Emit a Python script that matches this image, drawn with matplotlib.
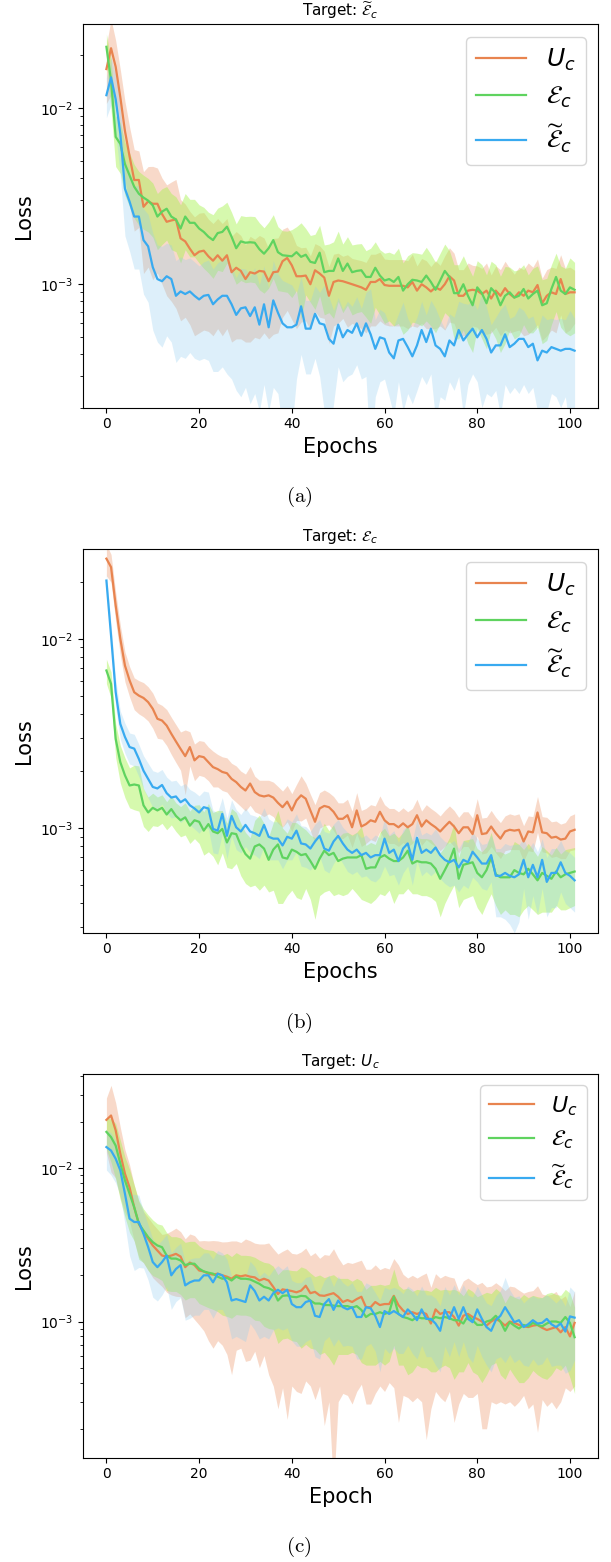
import matplotlib
matplotlib.use("Agg")
import matplotlib.pyplot as plt
import numpy as np

# losses in units of 1e-3, one value per epoch (0..101)
epochs = np.arange(102)

# ---- panel (a): target E~_c ----
a_u_mean = [16.6, 21.8, 17.1, 11.5, 7.4, 5.3, 3.9, 3.9, 2.75, 2.95, 2.86, 2.86, 2.5, 2.26, 2.3, 2.33, 1.82, 1.75, 1.59, 1.46,
            1.53, 1.55, 1.44, 1.36, 1.46, 1.36, 1.46, 1.17, 1.24, 1.19, 1.07, 1.17, 1.15, 1.19, 1.18, 1.04, 1.17, 1.18, 1.35, 1.41,
            1.28, 1.11, 1.11, 1.12, 1.0, 1.2, 1.15, 1.09, 0.86, 1.03, 1.05, 1.04, 1.02, 1.0, 0.98, 0.96, 0.93, 1.03, 1.03, 1.07,
            0.99, 0.98, 0.98, 0.98, 0.98, 0.96, 1.03, 0.92, 1.0, 0.96, 0.91, 0.96, 0.93, 1.0, 1.11, 1.05, 0.86, 0.86, 0.92, 0.93,
            0.92, 0.88, 0.92, 0.83, 0.92, 0.86, 0.95, 0.88, 0.84, 0.9, 0.86, 0.92, 0.9, 0.99, 0.78, 0.86, 0.9, 0.88, 1.07, 0.88,
            0.9, 0.9]
a_u_std = [6, 10, 7, 5, 3.5, 2.5, 1.9, 1.8, 1.6, 1.7, 1.8, 1.7, 1.5, 1.4, 1.5, 1.6, 1.2, 1.1, 1.0, 0.95,
           1.0, 1.0, 0.9, 0.85, 0.9, 0.85, 0.9, 0.7, 0.75, 0.7, 0.6, 0.7, 0.65, 0.7, 0.65, 0.55, 0.65, 0.65, 0.7, 0.7,
           0.65, 0.55, 0.5, 0.5, 0.45, 0.5, 0.5, 0.45, 0.4, 0.45, 0.45, 0.4, 0.45, 0.4, 0.4, 0.4, 0.4, 0.45, 0.45, 0.45,
           0.4, 0.4, 0.4, 0.4, 0.4, 0.4, 0.45, 0.35, 0.4, 0.4, 0.35, 0.4, 0.35, 0.45, 0.5, 0.45, 0.35, 0.35, 0.4, 0.35,
           0.35, 0.35, 0.4, 0.3, 0.35, 0.35, 0.4, 0.35, 0.3, 0.35, 0.35, 0.4, 0.35, 0.4, 0.3, 0.35, 0.35, 0.35, 0.4, 0.35,
           0.35, 0.3]
a_e_mean = [22.2, 14.3, 6.85, 6.25, 4.8, 4.14, 3.57, 3.26, 3.1, 2.98, 2.8, 2.42, 2.58, 2.68, 2.42, 2.33, 2.07, 2.42, 2.23, 2.23,
            2.07, 1.98, 1.86, 1.78, 1.95, 1.98, 2.12, 1.86, 1.6, 1.75, 1.72, 1.73, 1.72, 1.58, 1.49, 1.6, 1.78, 1.52, 1.46, 1.45,
            1.44, 1.52, 1.43, 1.47, 1.34, 1.32, 1.51, 1.17, 1.19, 1.19, 1.4, 1.19, 1.31, 1.17, 1.19, 1.2, 1.1, 1.1, 1.24, 1.12,
            1.05, 1.07, 1.03, 1.1, 0.92, 1.0, 1.06, 1.05, 1.03, 1.12, 1.03, 0.93, 1.05, 1.19, 1.1, 0.89, 0.89, 1.0, 0.86, 0.76,
            0.96, 0.89, 0.78, 0.95, 0.89, 0.76, 0.86, 0.9, 0.84, 0.86, 0.94, 0.83, 0.88, 0.92, 0.76, 0.78, 0.94, 1.1, 0.92, 0.88,
            0.96, 0.93]
a_e_std = [4, 4.5, 2.2, 2.0, 1.6, 1.4, 1.2, 1.1, 1.05, 1.0, 0.95, 0.85, 0.9, 0.9, 0.85, 0.8, 0.75, 0.85, 0.8, 0.8,
           0.75, 0.75, 0.7, 0.7, 0.75, 0.8, 0.8, 0.7, 0.6, 0.7, 0.7, 0.7, 0.7, 0.65, 0.6, 0.65, 0.7, 0.6, 0.55, 0.55,
           0.6, 0.6, 0.8, 0.6, 0.55, 0.6, 0.65, 0.5, 0.5, 0.55, 0.6, 0.5, 0.55, 0.5, 0.5, 0.5, 0.45, 0.5, 0.5, 0.45,
           0.45, 0.45, 0.45, 0.5, 0.4, 0.45, 0.45, 0.45, 0.45, 0.5, 0.45, 0.4, 0.45, 0.5, 0.45, 0.4, 0.4, 0.45, 0.4, 0.35,
           0.4, 0.4, 0.35, 0.4, 0.4, 0.35, 0.4, 0.35, 0.35, 0.35, 0.35, 0.3, 0.35, 0.35, 0.3, 0.3, 0.35, 0.4, 0.35, 0.35,
           0.45, 0.4]
a_t_mean = [11.8, 14.9, 11.2, 7.13, 3.48, 2.94, 2.42, 2.42, 1.78, 1.64, 1.25, 1.07, 1.04, 1.11, 1.07, 0.86, 0.91, 0.88, 0.91, 0.86,
            0.82, 0.86, 0.87, 0.77, 0.82, 0.86, 0.86, 0.77, 0.67, 0.73, 0.74, 0.66, 0.74, 0.59, 0.77, 0.57, 0.81, 0.69, 0.6, 0.57,
            0.57, 0.59, 0.75, 0.56, 0.56, 0.68, 0.6, 0.59, 0.49, 0.46, 0.59, 0.5, 0.55, 0.53, 0.6, 0.51, 0.6, 0.52, 0.43, 0.5,
            0.49, 0.41, 0.38, 0.48, 0.49, 0.44, 0.39, 0.45, 0.55, 0.47, 0.56, 0.45, 0.43, 0.39, 0.48, 0.45, 0.55, 0.48, 0.52, 0.56,
            0.5, 0.55, 0.49, 0.41, 0.45, 0.45, 0.52, 0.44, 0.46, 0.49, 0.49, 0.44, 0.46, 0.37, 0.42, 0.41, 0.44, 0.43, 0.42, 0.43,
            0.43, 0.42]
a_t_std = [3, 4.5, 4, 3, 1.6, 1.4, 1.2, 1.2, 0.9, 0.85, 0.7, 0.6, 0.6, 0.6, 0.6, 0.5, 0.52, 0.5, 0.5, 0.48,
           0.45, 0.48, 0.5, 0.45, 0.5, 0.52, 0.55, 0.48, 0.42, 0.5, 0.48, 0.45, 0.5, 0.4, 0.5, 0.38, 0.55, 0.45, 0.45, 0.45,
           0.42, 0.3, 0.35, 0.25, 0.25, 0.3, 0.3, 0.4, 0.36, 0.25, 0.25, 0.22, 0.25, 0.22, 0.25, 0.22, 0.3, 0.42, 0.2, 0.22,
           0.2, 0.18, 0.2, 0.2, 0.3, 0.2, 0.18, 0.2, 0.25, 0.2, 0.25, 0.28, 0.2, 0.17, 0.2, 0.2, 0.25, 0.3, 0.25, 0.25,
           0.22, 0.35, 0.25, 0.18, 0.2, 0.27, 0.25, 0.2, 0.2, 0.25, 0.22, 0.2, 0.2, 0.18, 0.25, 0.22, 0.2, 0.2, 0.22, 0.2,
           0.28, 0.22]

# ---- panel (b): target E_c ----
b_u_mean = [26.5, 23.9, 15.0, 10.0, 7.22, 6.03, 5.22, 5.01, 4.87, 4.63, 4.27, 3.78, 3.7, 3.48, 3.15, 2.87, 2.62, 2.4, 2.68, 2.28,
            2.4, 2.37, 2.23, 2.1, 2.05, 1.98, 1.95, 1.82, 1.75, 1.65, 1.58, 1.72, 1.55, 1.49, 1.47, 1.49, 1.45, 1.36, 1.29, 1.38,
            1.24, 1.4, 1.49, 1.43, 1.24, 1.08, 1.27, 1.31, 1.29, 1.22, 1.12, 1.12, 1.17, 1.01, 1.24, 1.02, 1.05, 1.1, 1.08, 1.22,
            1.1, 1.05, 1.05, 1.01, 1.06, 1.01, 1.05, 1.17, 1.02, 1.1, 1.05, 1.01, 0.96, 1.02, 1.08, 1.02, 0.94, 1.01, 1.01, 0.93,
            1.17, 0.93, 0.94, 1.02, 0.94, 0.88, 0.96, 0.98, 0.97, 0.98, 0.85, 0.96, 0.95, 1.21, 0.95, 0.94, 0.89, 0.9, 0.87, 0.88,
            0.96, 0.98]
b_u_std = [5, 4, 2.6, 1.8, 1.3, 1.1, 1.0, 1.0, 1.0, 0.95, 0.9, 0.8, 0.75, 0.75, 0.7, 0.65, 0.6, 0.9, 0.55, 0.5,
           0.5, 0.5, 0.45, 0.45, 0.4, 0.4, 0.4, 0.38, 0.38, 0.35, 0.35, 0.4, 0.33, 0.3, 0.32, 0.3, 0.3, 0.3, 0.28, 0.3,
           0.28, 0.3, 0.4, 0.3, 0.27, 0.25, 0.27, 0.28, 0.25, 0.25, 0.24, 0.24, 0.25, 0.22, 0.3, 0.22, 0.22, 0.23, 0.23, 0.26,
           0.23, 0.22, 0.22, 0.21, 0.22, 0.21, 0.22, 0.25, 0.21, 0.23, 0.22, 0.21, 0.2, 0.22, 0.23, 0.22, 0.2, 0.21, 0.21, 0.2,
           0.26, 0.2, 0.2, 0.22, 0.2, 0.19, 0.2, 0.21, 0.2, 0.21, 0.18, 0.2, 0.2, 0.26, 0.2, 0.2, 0.19, 0.19, 0.18, 0.19,
           0.2, 0.21]
b_e_mean = [6.8, 5.78, 2.96, 2.23, 1.9, 1.68, 1.7, 1.68, 1.32, 1.21, 1.28, 1.24, 1.28, 1.18, 1.26, 1.16, 1.1, 1.14, 1.03, 1.1,
            1.08, 0.97, 1.05, 0.96, 0.94, 0.99, 0.84, 0.94, 0.93, 0.81, 0.73, 0.69, 0.8, 0.82, 0.78, 0.68, 0.77, 0.82, 0.7, 0.69,
            0.77, 0.75, 0.72, 0.73, 0.67, 0.61, 0.69, 0.76, 0.72, 0.74, 0.67, 0.69, 0.7, 0.7, 0.7, 0.72, 0.61, 0.62, 0.62, 0.7,
            0.72, 0.69, 0.67, 0.67, 0.7, 0.76, 0.65, 0.67, 0.66, 0.66, 0.65, 0.61, 0.54, 0.6, 0.67, 0.78, 0.54, 0.64, 0.65, 0.66,
            0.58, 0.55, 0.6, 0.7, 0.57, 0.55, 0.55, 0.55, 0.6, 0.58, 0.57, 0.61, 0.57, 0.53, 0.58, 0.56, 0.54, 0.59, 0.55, 0.57,
            0.58, 0.59]
b_e_std = [1.0, 0.9, 0.6, 0.5, 0.45, 0.4, 0.45, 0.45, 0.3, 0.25, 0.25, 0.22, 0.22, 0.2, 0.22, 0.2, 0.2, 0.22, 0.2, 0.22,
           0.25, 0.25, 0.3, 0.25, 0.3, 0.25, 0.22, 0.33, 0.28, 0.25, 0.22, 0.2, 0.3, 0.35, 0.28, 0.22, 0.3, 0.42, 0.3, 0.25,
           0.3, 0.32, 0.3, 0.25, 0.25, 0.28, 0.25, 0.3, 0.25, 0.3, 0.22, 0.25, 0.25, 0.22, 0.25, 0.3, 0.2, 0.22, 0.2, 0.25,
           0.28, 0.22, 0.27, 0.22, 0.25, 0.28, 0.2, 0.22, 0.22, 0.22, 0.22, 0.2, 0.2, 0.2, 0.22, 0.28, 0.16, 0.22, 0.22, 0.22,
           0.2, 0.2, 0.2, 0.25, 0.18, 0.2, 0.18, 0.2, 0.25, 0.24, 0.2, 0.22, 0.2, 0.18, 0.22, 0.2, 0.18, 0.2, 0.18, 0.2,
           0.2, 0.2]
b_t_mean = [20.3, 10.4, 5.22, 3.55, 3.03, 2.68, 2.63, 2.32, 2.01, 1.82, 1.65, 1.62, 1.69, 1.53, 1.45, 1.47, 1.37, 1.42, 1.32, 1.27,
            1.21, 1.29, 1.27, 0.99, 0.97, 1.19, 0.91, 1.16, 1.01, 0.96, 1.04, 0.96, 0.94, 0.91, 1.04, 0.9, 0.88, 0.88, 0.81, 0.9,
            0.88, 0.97, 0.83, 0.82, 0.78, 0.85, 0.91, 0.78, 0.76, 0.85, 0.91, 0.83, 0.77, 0.74, 0.77, 0.72, 0.74, 0.7, 0.72, 0.72,
            0.88, 0.74, 0.77, 0.67, 0.78, 0.83, 0.68, 0.89, 0.74, 0.77, 0.74, 0.79, 0.72, 0.68, 0.66, 0.68, 0.62, 0.68, 0.66, 0.75,
            0.7, 0.65, 0.65, 0.72, 0.56, 0.56, 0.58, 0.56, 0.55, 0.57, 0.68, 0.55, 0.64, 0.55, 0.68, 0.52, 0.58, 0.58, 0.66, 0.58,
            0.56, 0.53]
b_t_std = [2.0, 1.5, 0.9, 0.6, 0.55, 0.5, 0.5, 0.45, 0.4, 0.38, 0.36, 0.35, 0.35, 0.33, 0.32, 0.32, 0.3, 0.3, 0.28, 0.28,
           0.27, 0.28, 0.28, 0.25, 0.24, 0.26, 0.22, 0.25, 0.24, 0.22, 0.24, 0.22, 0.22, 0.22, 0.24, 0.22, 0.2, 0.2, 0.2, 0.22,
           0.2, 0.22, 0.2, 0.2, 0.18, 0.2, 0.2, 0.18, 0.18, 0.2, 0.2, 0.18, 0.18, 0.17, 0.18, 0.17, 0.18, 0.17, 0.2, 0.17,
           0.25, 0.18, 0.2, 0.17, 0.2, 0.2, 0.18, 0.22, 0.18, 0.18, 0.18, 0.2, 0.18, 0.17, 0.17, 0.18, 0.16, 0.18, 0.18, 0.2,
           0.18, 0.17, 0.18, 0.2, 0.22, 0.22, 0.25, 0.25, 0.27, 0.25, 0.2, 0.22, 0.2, 0.2, 0.2, 0.18, 0.2, 0.2, 0.2, 0.18,
           0.18, 0.17]

# ---- panel (c): target U_c ----
c_u_mean = [20.6, 22.0, 17.6, 12.4, 9.18, 7.48, 5.54, 4.33, 3.81, 3.46, 3.13, 2.9, 2.69, 2.65, 2.69, 2.76, 2.65, 2.26, 2.42, 2.33,
            2.15, 2.12, 2.05, 2.02, 2.05, 2.0, 1.96, 1.9, 2.0, 1.97, 2.0, 1.96, 1.94, 1.85, 1.9, 1.85, 1.68, 1.51, 1.62, 1.6,
            1.58, 1.55, 1.59, 1.71, 1.53, 1.56, 1.48, 1.47, 1.5, 1.53, 1.45, 1.34, 1.38, 1.34, 1.4, 1.45, 1.24, 1.24, 1.34, 1.28,
            1.3, 1.3, 1.47, 1.28, 1.18, 1.12, 1.15, 1.12, 1.15, 1.12, 0.97, 1.2, 1.12, 1.15, 1.15, 1.07, 0.94, 1.09, 1.12, 1.07,
            1.04, 1.0, 0.94, 1.0, 1.04, 1.0, 0.94, 1.0, 0.98, 0.95, 0.93, 0.92, 0.94, 0.95, 0.91, 0.88, 0.9, 0.92, 0.85, 0.92,
            0.8, 0.98]
c_u_std = [8, 12.6, 9, 6, 4, 3, 2.2, 1.7, 1.4, 1.3, 1.2, 1.1, 1.0, 1.1, 1.2, 1.3, 1.2, 1.2, 1.3, 1.3,
           1.2, 1.25, 1.3, 1.35, 1.3, 1.3, 1.35, 1.45, 1.35, 1.3, 1.45, 1.4, 1.3, 1.35, 1.3, 1.4, 1.3, 1.24, 1.25, 1.37,
           1.2, 1.2, 1.25, 1.3, 1.15, 1.25, 1.1, 1.26, 1.2, 1.45, 1.15, 1.0, 1.05, 1.05, 1.05, 1.06, 0.95, 0.95, 1.0, 0.9,
           0.95, 0.9, 1.1, 1.06, 0.85, 0.8, 0.85, 0.8, 0.85, 0.95, 0.7, 0.85, 0.8, 0.85, 0.8, 0.85, 0.65, 0.75, 0.8, 0.75,
           0.7, 0.8, 0.74, 0.7, 0.75, 0.7, 0.65, 0.7, 0.7, 0.65, 0.6, 0.65, 0.65, 0.76, 0.6, 0.6, 0.6, 0.65, 0.55, 0.55,
           0.45, 0.6]
c_e_mean = [17.2, 15.9, 14.0, 10.7, 8.3, 6.8, 5.55, 4.34, 3.92, 3.55, 3.29, 3.13, 3.05, 2.69, 2.57, 2.57, 2.5, 2.33, 2.38, 2.38,
            2.21, 2.12, 2.08, 2.05, 1.96, 1.9, 1.93, 1.85, 1.96, 1.9, 1.9, 1.88, 1.82, 1.76, 1.68, 1.65, 1.59, 1.37, 1.47, 1.48,
            1.45, 1.44, 1.47, 1.46, 1.37, 1.31, 1.31, 1.28, 1.28, 1.27, 1.26, 1.26, 1.26, 1.23, 1.26, 1.19, 1.07, 1.12, 1.12, 1.15,
            1.12, 1.15, 1.45, 1.12, 1.07, 1.05, 1.02, 1.07, 1.05, 1.05, 1.02, 1.07, 1.05, 1.07, 1.05, 1.02, 1.02, 0.97, 1.09, 1.02,
            0.95, 0.95, 1.0, 1.02, 1.09, 1.0, 0.87, 0.99, 0.94, 0.9, 0.95, 0.93, 0.98, 0.95, 0.93, 0.97, 1.0, 1.0, 0.98, 1.07,
            0.98, 0.79]
c_e_std = [4, 5, 5.5, 4.5, 3.5, 3.0, 2.2, 1.8, 1.5, 1.4, 1.3, 1.2, 1.2, 1.1, 1.0, 1.0, 1.0, 0.95, 0.95, 0.95,
           0.9, 0.85, 0.85, 0.85, 0.8, 0.8, 0.85, 0.8, 0.85, 0.8, 0.8, 0.8, 0.8, 0.75, 0.75, 0.75, 0.7, 0.65, 0.7, 0.7,
           0.7, 0.7, 0.8, 0.75, 0.7, 0.65, 0.7, 0.65, 0.7, 0.75, 0.65, 0.65, 0.65, 0.6, 0.65, 0.65, 0.55, 0.6, 0.6, 0.6,
           0.6, 0.6, 0.75, 0.6, 0.55, 0.6, 0.55, 0.55, 0.55, 0.55, 0.55, 0.6, 0.55, 0.55, 0.55, 0.6, 0.55, 0.5, 0.55, 0.55,
           0.5, 0.55, 0.55, 0.5, 0.55, 0.55, 0.45, 0.5, 0.5, 0.5, 0.55, 0.5, 0.5, 0.5, 0.5, 0.55, 0.55, 0.5, 0.5, 0.55,
           0.55, 0.45]
c_t_mean = [13.7, 13.0, 11.5, 9.66, 6.8, 4.68, 4.45, 4.45, 3.73, 3.06, 2.44, 2.26, 2.44, 2.69, 2.0, 2.2, 2.33, 1.72, 1.8, 1.85,
            1.85, 2.0, 2.0, 1.8, 2.05, 2.0, 1.8, 1.37, 1.4, 1.37, 1.34, 1.72, 1.58, 1.37, 1.45, 1.37, 1.53, 1.61, 1.53, 1.61,
            1.3, 1.24, 1.24, 1.34, 1.37, 1.09, 1.07, 1.3, 1.4, 1.19, 1.37, 1.24, 1.2, 1.24, 1.07, 1.07, 1.24, 1.22, 1.09, 0.92,
            1.17, 1.12, 1.17, 1.12, 1.07, 1.2, 1.12, 1.02, 1.2, 1.04, 1.04, 0.97, 0.87, 1.19, 1.04, 1.24, 1.04, 1.24, 1.04, 0.99,
            1.2, 1.04, 0.92, 0.87, 1.02, 1.09, 1.24, 1.11, 0.99, 1.02, 0.92, 0.96, 1.02, 0.97, 0.98, 1.04, 0.96, 0.92, 0.97, 0.86,
            1.08, 1.06]
c_t_std = [4, 4, 3.5, 3, 2.5, 2.0, 2.3, 2.2, 1.5, 1.2, 1.0, 0.9, 0.95, 1.0, 0.8, 0.85, 0.9, 0.7, 0.75, 0.75,
           0.75, 0.8, 0.8, 0.75, 0.85, 0.8, 0.75, 0.6, 0.6, 0.6, 0.6, 0.75, 0.7, 0.6, 0.65, 0.6, 0.65, 0.7, 0.65, 0.7,
           0.55, 0.55, 0.55, 0.6, 0.6, 0.5, 0.5, 0.55, 0.6, 0.5, 0.6, 0.55, 0.5, 0.55, 0.5, 0.5, 0.55, 0.5, 0.45, 0.45,
           0.5, 0.5, 0.5, 0.5, 0.45, 0.5, 0.5, 0.45, 0.5, 0.45, 0.45, 0.45, 0.4, 0.5, 0.45, 0.5, 0.45, 0.5, 0.45, 0.45,
           0.5, 0.45, 0.4, 0.4, 0.45, 0.5, 0.7, 0.5, 0.45, 0.45, 0.4, 0.45, 0.45, 0.45, 0.45, 0.45, 0.45, 0.4, 0.45, 0.4,
           0.6, 0.5]

labels = [r'$U_c$', r'$\mathcal{E}_c$', r'$\widetilde{\mathcal{E}}_c$']
titles = [r'Target: $\widetilde{\mathcal{E}}_c$', r'Target: $\mathcal{E}_c$', r'Target: $U_c$']
xlabels = ['Epochs', 'Epochs', 'Epoch']
captions = [r'$\mathrm{(a)}$', r'$\mathrm{(b)}$', r'$\mathrm{(c)}$']
line_colors = ['#e8844f', '#5fd35f', '#38aaf0']
band_colors = ['#e8844f', '#a6f24d', '#8fcdf0']
band_alpha = [0.3, 0.45, 0.3]
ylims = [(2.0e-4, 2.99e-2), (2.81e-4, 2.98e-2), (1.30e-4, 4.1e-2)]
legend_size = [18, 18, 16]

panels = [
    [(a_u_mean, a_u_std), (a_e_mean, a_e_std), (a_t_mean, a_t_std)],
    [(b_u_mean, b_u_std), (b_e_mean, b_e_std), (b_t_mean, b_t_std)],
    [(c_u_mean, c_u_std), (c_e_mean, c_e_std), (c_t_mean, c_t_std)],
]

W, H = 611, 1562
fig = plt.figure(figsize=(W / 100, H / 100), dpi=100)

ax_top = [24, 549, 1074]     # pixel rows of axes tops
cap_y = [497, 1023, 1547]    # pixel rows of captions

for k in range(3):
    ax = fig.add_axes([83 / W, 1 - (ax_top[k] + 383.5) / H, 515 / W, 383.5 / H])
    for (m, s), lc, bc, al, lab in zip(panels[k], line_colors, band_colors, band_alpha, labels):
        m = np.array(m) * 1e-3
        s = np.array(s) * 1e-3
        ax.fill_between(epochs, m - s, m + s, color=bc, alpha=al, linewidth=0)
        ax.plot(epochs, m, color=lc, lw=1.6, label=lab)
    ax.set_yscale('log')
    ax.set_ylim(*ylims[k])
    ax.set_xlim(-5.05, 106.05)
    ax.tick_params(labelsize=10)
    ax.set_title(titles[k], fontsize=11)
    ax.set_xlabel(xlabels[k], fontsize=15)
    ax.set_ylabel('Loss', fontsize=15)
    ax.legend(loc='upper right', fontsize=legend_size[k])
    fig.text(299 / W, 1 - cap_y[k] / H, captions[k], ha='center', va='center',
             fontsize=15, math_fontfamily='cm')

fig.savefig('out.png', dpi=100)
